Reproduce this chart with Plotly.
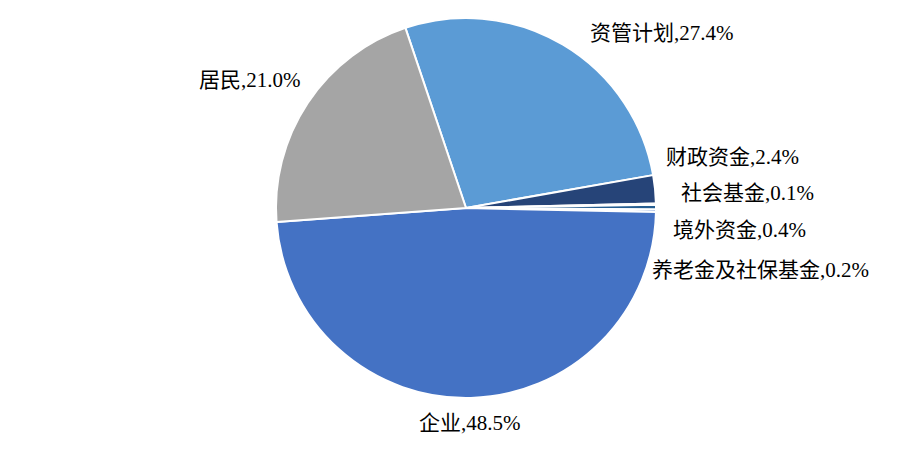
import plotly.graph_objects as go

# slice data, clockwise from the top-left edge of 资管计划
labels = ["资管计划", "财政资金", "社会基金", "境外资金", "养老金及社保基金", "企业", "居民"]
shares = [27.4, 2.4, 0.1, 0.4, 0.2, 48.5, 21.0]
colors = ["#5B9BD5", "#264478", "#9DC3E6", "#255E91", "#698ED0", "#4472C4", "#A5A5A5"]

# label centres in screen pixels (x, y from top), same order as labels
label_px = [(662, 33), (732, 157), (747, 193), (739, 230), (760, 270), (470, 423), (250, 80)]

W, H = 921, 449
OFF = 8  # page body margin shifts the figure by 8px
FONT = "Times New Roman, Liberation Serif, Noto Sans CJK SC, serif"


def px_x(v):
    return (v - OFF) / W


def px_y(v):
    return 1 - (v - OFF) / H


fig = go.Figure()
fig.add_trace(go.Pie(
    labels=labels, values=shares, sort=False, direction="clockwise",
    rotation=-18.6,
    marker=dict(colors=colors, line=dict(color="white", width=2)),
    textinfo="none", hoverinfo="label+percent", showlegend=False,
    domain=dict(x=[px_x(276), px_x(656)], y=[px_y(398), px_y(18)]),
))

for lab, val, (px, py) in zip(labels, shares, label_px):
    fig.add_annotation(
        x=px_x(px), y=px_y(py), xref="paper", yref="paper",
        text=f"{lab},{val:.1f}%", showarrow=False,
        xanchor="center", yanchor="middle",
        font=dict(family=FONT, size=21, color="black"),
    )

fig.update_layout(
    width=W, height=H, margin=dict(l=0, r=0, t=0, b=0),
    paper_bgcolor="white", plot_bgcolor="white",
)

fig.write_html("out.html")
